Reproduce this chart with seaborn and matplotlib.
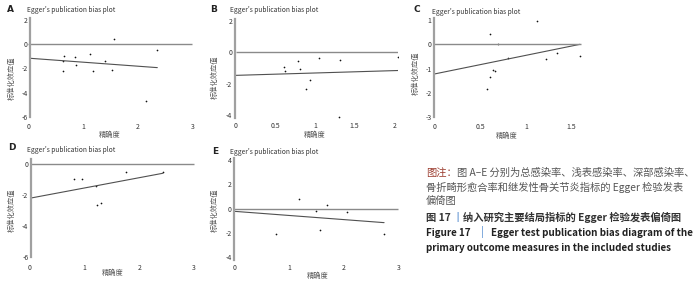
import numpy as np
import pandas as pd
import seaborn as sns
from matplotlib import pyplot as plt
from matplotlib.ticker import FormatStrFormatter

# ---- data ----
a_prec = [0.63, 0.65, 0.64, 0.85, 0.88, 1.13, 1.18, 1.41, 1.53, 1.57, 2.36, 2.15]
a_std = [-2.2, -1.0, -1.4, -1.1, -1.75, -0.83, -2.2, -1.4, -2.1, 0.42, -0.5, -4.7]
a_fit_x = [0.04, 2.36]
a_fit_y = [-1.17, -1.94]

b_prec = [0.61, 0.62, 0.79, 0.81, 0.94, 0.89, 1.05, 1.31, 1.30, 2.05]
b_std = [-0.95, -1.16, -0.53, -1.05, -1.79, -2.36, -0.38, -0.48, -4.15, -0.32]
b_fit_x = [0.0, 2.05]
b_fit_y = [-1.47, -1.16]

c_prec = [0.61, 0.69, 0.81, 0.64, 0.66, 0.61, 0.58, 1.12, 1.22, 1.34, 1.59]
c_std = [0.41, 0.03, -0.55, -1.07, -1.1, -1.34, -1.82, 0.95, -0.59, -0.36, -0.48]
c_fit_x = [0.0, 1.59]
c_fit_y = [-1.22, 0.0]

d_prec = [0.80, 0.96, 1.20, 1.22, 1.30, 1.75, 2.43]
d_std = [-0.99, -0.95, -1.42, -2.65, -2.5, -0.49, -0.52]
d_fit_x = [0.02, 2.43]
d_fit_y = [-2.2, -0.6]

e_prec = [0.76, 1.19, 1.49, 1.57, 1.69, 2.06, 2.74]
e_std = [-2.1, 0.77, -0.22, -1.78, 0.27, -0.27, -2.1]
e_fit_x = [0.0, 2.74]
e_fit_y = [-0.22, -1.15]

a_xticks = [0, 1, 2, 3]
a_yticks = [2, 0, -2, -4, -6]
b_xticks = [0, 0.5, 1, 1.5, 2]
b_yticks = [2, 0, -2, -4]
c_xticks = [0, 0.5, 1, 1.5]
c_yticks = [1, 0, -1, -2, -3]
d_xticks = [0, 1, 2, 3]
d_yticks = [0, -2, -4, -6]
e_xticks = [0, 1, 2, 3]
e_yticks = [4, 2, 0, -2, -4]

title = "Egger's publication bias plot"
xlabel = '精确度'
ylabel = '标准化效应值'

sns.set_theme(style='white')
plt.rcParams['font.family'] = ['Noto Sans CJK SC', 'DejaVu Sans']

W, H = 700, 286
fig = plt.figure(figsize=(W / 100, H / 100), dpi=100)


def make_axes(xd, xp, yd, yp, xlim, ylim):
    # map data values to pixel positions of the reference
    sx = (xp[1] - xp[0]) / (xd[1] - xd[0])
    sy = (yp[1] - yp[0]) / (yd[1] - yd[0])
    left = xp[0] + (xlim[0] - xd[0]) * sx
    right = xp[0] + (xlim[1] - xd[0]) * sx
    top = yp[0] + (ylim[1] - yd[0]) * sy
    bottom = yp[0] + (ylim[0] - yd[0]) * sy
    ax = fig.add_axes([left / W, 1 - bottom / H, (right - left) / W, (bottom - top) / H])
    ax.set_xlim(xlim)
    ax.set_ylim(ylim)
    return ax


def panel(ax, letter, prec, std, fit_x, fit_y, xticks, yticks, zero_end, vline_x, vbounds,
          letter_px, title_px, ylab_px, xlab_px):
    sns.scatterplot(x=prec, y=std, ax=ax, s=1.5, color='#111111', linewidth=0, legend=False)
    sns.lineplot(x=fit_x, y=fit_y, ax=ax, color='#505050', linewidth=0.8)
    ax.hlines(0, 0, zero_end, color='#8a8a8a', linewidth=1.0)
    for s in ['top', 'right', 'bottom']:
        ax.spines[s].set_visible(False)
    ax.spines['left'].set_position(('data', vline_x))
    ax.spines['left'].set_bounds(*vbounds)
    ax.spines['left'].set_color('#a0a0a0')
    ax.spines['left'].set_linewidth(1.6)
    ax.set_xticks(xticks)
    ax.set_yticks(yticks)
    ax.xaxis.set_major_formatter(FormatStrFormatter('%g'))
    ax.yaxis.set_major_formatter(FormatStrFormatter('%g'))
    ax.tick_params(axis='both', length=0, labelsize=5, colors='#333333', pad=2)
    ax.set_xlabel('')
    ax.set_ylabel('')
    fig.text(letter_px[0] / W, 1 - letter_px[1] / H, letter, fontsize=6.5, fontweight='bold',
             color='#222222', ha='left', va='center', family=['DejaVu Sans'])
    fig.text(title_px[0] / W, 1 - title_px[1] / H, title, fontsize=4.8,
             color='#333333', ha='left', va='center')
    fig.text(ylab_px[0] / W, 1 - ylab_px[1] / H, ylabel, fontsize=5.2, rotation=90,
             color='#555555', ha='center', va='center')
    fig.text(xlab_px[0] / W, 1 - xlab_px[1] / H, xlabel, fontsize=5.2,
             color='#555555', ha='center', va='center')


ax = make_axes((0, 3), (28.3, 192.3), (2, -6), (20, 116.7), (-0.05, 3.05), (-6.3, 2.4))
panel(ax, 'A', a_prec, a_std, a_fit_x, a_fit_y, a_xticks, a_yticks, 3, 0.04, (-6, 2.2),
      (7, 9), (27, 10.5), (12, 78), (110, 134.5))

ax = make_axes((0, 2), (235.7, 394.3), (2, -4), (21, 115), (-0.04, 2.05), (-4.25, 2.3))
panel(ax, 'B', b_prec, b_std, b_fit_x, b_fit_y, b_xticks, b_yticks, 2.05, -0.01, (-4.2, 2.1),
      (210, 9), (230, 10.5), (215, 77), (315, 135))

ax = make_axes((0, 1.5), (434.3, 571.7), (1, -3), (20, 117.3), (-0.03, 1.62), (-3.12, 1.15))
panel(ax, 'C', c_prec, c_std, c_fit_x, c_fit_y, c_xticks, c_yticks, 1.6, 0.0, (-3, 1.1),
      (413, 9), (432, 11.5), (416, 73), (507, 136))

ax = make_axes((0, 3), (30, 194), (0, -6), (164, 256.7), (-0.05, 3.05), (-6.3, 0.35))
panel(ax, 'D', d_prec, d_std, d_fit_x, d_fit_y, d_xticks, d_yticks, 3, 0.02, (-6, 0.3),
      (8, 147), (27, 150), (12, 210), (113, 273))

ax = make_axes((0, 3), (234.3, 398.3), (4, -4), (160, 257.3), (-0.05, 3.05), (-4.35, 4.3))
panel(ax, 'E', e_prec, e_std, e_fit_x, e_fit_y, e_xticks, e_yticks, 3, 0.0, (-4.2, 4.2),
      (212, 151), (230, 152), (215, 210), (318, 276))

# ---- caption ----
cap_x = 426 / W
fs_cn = 7.4
t = fig.text(cap_x, 1 - 173 / H, '图注：', fontsize=fs_cn, color='#9b3b2e', ha='left', va='center')
plt.annotate('图 A–E 分别为总感染率、浅表感染率、深部感染率、', xy=(1, 0), xycoords=t,
             fontsize=fs_cn, color='#555555', ha='left', va='bottom', annotation_clip=False)
fig.text(cap_x, 1 - 187 / H, '骨折畸形愈合率和继发性骨关节炎指标的 Egger 检验发表',
         fontsize=fs_cn, color='#555555', ha='left', va='center')
fig.text(cap_x, 1 - 201 / H, '偏倚图', fontsize=fs_cn, color='#555555', ha='left', va='center')

t = fig.text(cap_x, 1 - 218 / H, '图 17\u2009', fontsize=fs_cn, color='#333333', ha='left',
             va='center', fontweight='bold', family=['Noto Sans CJK SC', 'DejaVu Sans'])
t = plt.annotate('丨', xy=(1, 0), xycoords=t, fontsize=fs_cn, color='#3d7cc9', ha='left', va='bottom')
plt.annotate('纳入研究主要结局指标的 Egger 检验发表偏倚图', xy=(1, 0), xycoords=t,
             fontsize=fs_cn, color='#333333', ha='left', va='bottom', fontweight='bold')

fs_en = 7.1
t = fig.text(cap_x, 1 - 233 / H, 'Figure 17', fontsize=fs_en, color='#222222', ha='left',
             va='center', fontweight='bold')
t = plt.annotate('|', xy=(1, 0), xycoords=t, xytext=(10, 0), textcoords='offset pixels',
                 fontsize=fs_en, color='#3d7cc9', ha='left', va='bottom')
plt.annotate('Egger test publication bias diagram of the', xy=(1, 0), xycoords=t,
             xytext=(8, 0), textcoords='offset pixels',
             fontsize=fs_en, color='#222222', ha='left', va='bottom', fontweight='bold')
fig.text(cap_x, 1 - 248 / H, 'primary outcome measures in the included studies', fontsize=fs_en,
         color='#222222', ha='left', va='center', fontweight='bold')

fig.savefig('out.png', dpi=100)
